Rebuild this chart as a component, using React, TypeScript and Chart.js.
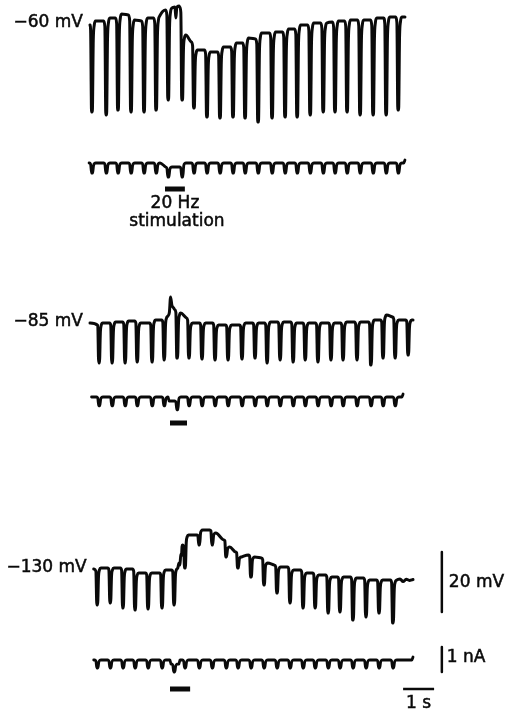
import React, { useEffect, useRef } from "react";
import { Chart, registerables } from "chart.js";

Chart.register(...registerables);

// ---------- data (time in s, membrane potential in mV, current in nA) ----------
const restPotentials = [-60, -85, -130];

// pulse onset times for each recording
const pulseTimesA = [0.02, 0.48, 0.86, 1.28, 1.7, 2.09, 2.48, 2.93, 3.31, 3.73, 4.15, 4.57, 4.96, 5.38, 5.83, 6.25, 6.64, 7.06, 7.48, 7.86, 8.25, 8.67, 9.09, 9.51, 9.9];
const pulseTimesB = [0.25, 0.67, 1.09, 1.48, 1.96, 2.35, 2.77, 3.15, 3.57, 3.99, 4.41, 4.86, 5.28, 5.67, 6.09, 6.51, 6.9, 7.31, 7.73, 8.12, 8.57, 9.02, 9.41, 9.8, 10.22];
const pulseTimesC = [0.19, 0.61, 1.02, 1.41, 1.83, 2.28, 2.67, 3.02, 3.48, 3.9, 4.35, 4.73, 5.15, 5.57, 5.99, 6.41, 6.83, 7.22, 7.64, 8.02, 8.44, 8.86, 9.28, 9.73];

// recording A (-60 mV)
const preA = [-60.3, -59.0, -58.0, -57.0, -59.0, -58.0, -55.3, -54.3, -66.0, -68.7, -69.3, -67.7, -66.3, -65.0, -63.0, -62.7, -61.7, -60.3, -59.7, -59.3, -59.0, -58.7, -58.7, -58.0, -57.7];
const postA = [-59.0, -58.0, -56.7, -58.7, -58.0, -57.3, -54.7, -63.7, -68.7, -69.3, -67.7, -66.3, -64.7, -63.0, -62.7, -61.7, -60.3, -59.7, -59.7, -59.0, -58.7, -58.7, -58.0, -57.7, -57.7];
const troughA = [-89.3, -90.3, -88.7, -89.3, -89.3, -88.7, -85.3, -85.3, -88.0, -91.0, -91.3, -91.0, -91.3, -92.7, -91.3, -91.0, -91.0, -90.3, -89.3, -89.3, -89.3, -90.3, -90.3, -90.3, -88.7];
const extraA: [number, number][] = [[0, -60.3], [2.74, -54.3], [2.77, -58.0], [2.8, -54.5], [2.87, -54.0], [10.16, -57.7]];

// recording B (-85 mV)
const preB = [-85.0, -85.0, -84.7, -84.3, -85.0, -84.0, -80.5, -83.3, -85.0, -85.0, -85.7, -85.7, -85.0, -85.0, -84.7, -84.7, -85.0, -85.0, -85.0, -85.0, -84.7, -84.7, -84.0, -83.0, -84.0];
const postB = [-85.0, -84.7, -84.3, -85.0, -84.0, -82.7, -81.7, -85.0, -85.0, -85.7, -85.7, -85.0, -85.0, -84.7, -84.7, -85.0, -85.0, -85.0, -85.0, -84.7, -84.7, -84.0, -82.3, -84.0, -84.0];
const troughB = [-98.3, -98.3, -98.3, -98.0, -98.0, -97.3, -96.7, -96.7, -97.0, -97.3, -97.3, -97.0, -96.7, -98.3, -97.3, -98.0, -97.3, -98.0, -97.3, -97.3, -97.3, -99.0, -96.7, -96.7, -95.7];
const extraB: [number, number][] = [[0, -85.0], [2.56, -81.5], [2.6, -76.3], [2.64, -79.0], [2.7, -80.0], [10.42, -84.0]];

// recording C (-130 mV)
const preC = [-130.0, -129.7, -129.7, -130.0, -131.3, -131.3, -130.3, -122.0, -118.7, -117.0, -120.3, -124.3, -125.3, -126.3, -128.7, -129.3, -130.3, -131.3, -132.0, -132.7, -132.7, -133.0, -133.7, -133.7];
const postC = [-129.7, -129.7, -130.0, -131.3, -131.3, -130.3, -129.7, -118.7, -117.0, -118.0, -122.7, -126.0, -126.0, -128.0, -129.3, -130.3, -131.3, -132.0, -132.7, -132.7, -133.0, -133.7, -133.7, -133.7];
const troughC = [-142.0, -141.3, -143.0, -143.7, -143.3, -143.0, -142.0, -129.7, -122.0, -122.0, -126.0, -129.7, -132.7, -135.3, -138.0, -141.3, -143.0, -143.0, -144.7, -144.3, -147.0, -146.0, -144.7, -148.0];
const extraC: [number, number][] = [[0.12, -130.0], [2.87, -128.0], [2.9, -128.7], [2.93, -125.0], [2.95, -125.7], [2.97, -122.5], [10.0, -133.3], [10.1, -134.2], [10.2, -133.4], [10.3, -133.8], [10.42, -133.5]];

// current monitor traces (nA)
const currentPulse = [0.4, 0.35, 0.32];
const currentStimShift = [-0.16, -0.16, -0.16];
const currentStimWindow: [number, number][] = [[2.45, 2.93], [2.52, 2.77], [2.58, 2.9]];
const currentStart = [-0.03, 0.05, 0.12];
const currentEnd = [10.12, 10.06, 10.38];

// 20 Hz stimulation periods
const stimPeriods: [number, number][] = [[2.42, 3.06], [2.58, 3.13], [2.58, 3.23]];

// calibration
const calMv = 20;
const calNa = 1;
const calS = 1;

// ---------- layout ----------
const W = 506;
const H = 712;
const PX_PER_S = 31;
const X0_PX = 90;
const PX_PER_MV = 3;
const PX_PER_NA = 25;
const INK = "#0a0a0a";
const FONT = '17px "DejaVu Sans", sans-serif';

function range(value: number, px: number, perUnit: number) {
  const max = value + px / perUnit;
  return { min: max - H / perUnit, max };
}

type P = { x: number; y: number };

function voltageTrace(times: number[], pre: number[], post: number[], trough: number[], extra: [number, number][]): P[] {
  const pts: P[] = [];
  times.forEach((t0, i) => {
    const p = pre[i], q = trough[i], r = post[i];
    if (i > 0) pts.push({ x: t0 - 0.04, y: p });
    pts.push({ x: t0, y: p - 0.06 * (p - q) });
    pts.push({ x: t0 + 0.03, y: q });
    pts.push({ x: t0 + 0.055, y: q });
    pts.push({ x: t0 + 0.085, y: r - 0.22 * (r - q) });
    pts.push({ x: t0 + 0.115, y: r - 0.05 * (r - q) });
    pts.push({ x: t0 + 0.16, y: r });
  });
  extra.forEach(([x, y]) => pts.push({ x, y }));
  pts.sort((a, b) => a.x - b.x);
  return pts;
}

function currentTrace(times: number[], depth: number, shift: number, win: [number, number], start: number, end: number): P[] {
  const lvl = (t: number) => (t >= win[0] && t <= win[1] ? shift : 0);
  const pts: P[] = [];
  times.forEach((t0) => {
    if (t0 > end) return;
    const b = lvl(t0), a = lvl(t0 + 0.16);
    pts.push({ x: t0 - 0.04, y: b });
    pts.push({ x: t0, y: b - 0.12 * depth });
    pts.push({ x: t0 + 0.03, y: b - depth });
    pts.push({ x: t0 + 0.065, y: b - depth });
    pts.push({ x: t0 + 0.095, y: a - 0.25 * depth });
    pts.push({ x: t0 + 0.125, y: a - 0.05 * depth });
    pts.push({ x: t0 + 0.17, y: a });
  });
  const inPulse = (t: number) => times.some((t0) => t >= t0 - 0.045 && t <= t0 + 0.175);
  const edges: P[] = [
    { x: win[0], y: 0 },
    { x: win[0] + 0.03, y: shift },
    { x: win[1] - 0.03, y: shift },
    { x: win[1], y: 0 },
    { x: start, y: 0 },
    { x: end, y: 0 },
    { x: end + 0.04, y: 0.12 },
  ];
  edges.forEach((e) => {
    if (!inPulse(e.x)) pts.push(e);
  });
  pts.sort((a, b) => a.x - b.x);
  return pts;
}

const tracePlugin = {
  id: "figureText",
  afterDatasetsDraw(chart: any) {
    const { ctx, scales } = chart;
    const x = scales.x;
    ctx.save();
    ctx.fillStyle = INK;
    ctx.strokeStyle = INK;
    ctx.lineWidth = 0.5;
    ctx.font = FONT;
    ctx.textBaseline = "middle";
    const put = (s: string, px: number, py: number) => {
      ctx.fillText(s, px, py);
      ctx.strokeText(s, px, py);
    };
    // resting potential labels
    const starts = [0, 0, 0.12];
    const axes = ["v1", "v2", "v3"];
    restPotentials.forEach((v, k) => {
      ctx.textAlign = "right";
      const px = x.getPixelForValue(starts[k]) - 7;
      const py = scales[axes[k]].getPixelForValue(v) - 1.5;
      put(`\u2212${Math.abs(v)} mV`, px, py);
    });
    // stimulation label under the first bar
    const sMid = x.getPixelForValue((stimPeriods[0][0] + stimPeriods[0][1]) / 2);
    const barY = scales.i1.getPixelForValue(-1.04);
    ctx.textAlign = "center";
    put("20 Hz", sMid, barY + 15);
    put("stimulation", sMid + 2, barY + 33);
    // calibration labels
    ctx.textAlign = "left";
    const calX = x.getPixelForValue(11.35);
    const mvMid = scales.v3.getPixelForValue(-124.3 - calMv / 2);
    put(`${calMv} mV`, calX + 7, mvMid + 1);
    const naMid = scales.i3.getPixelForValue(0.52 - calNa / 2);
    put(`${calNa} nA`, calX + 5, naMid - 2);
    ctx.textAlign = "center";
    const sBar = x.getPixelForValue(10.1 + calS / 2);
    const sY = scales.i3.getPixelForValue(-1.16);
    put(`${calS} s`, sBar, sY + 15);
    ctx.restore();
  },
};

export default function App() {
  const ref = useRef<HTMLCanvasElement | null>(null);

  useEffect(() => {
    if (!ref.current) return;
    const line = (data: P[], axis: string, width = 2.6, extra: any = {}) => ({
      data,
      yAxisID: axis,
      xAxisID: "x",
      borderColor: INK,
      backgroundColor: INK,
      borderWidth: width,
      pointRadius: 0,
      fill: false,
      cubicInterpolationMode: "monotone",
      borderJoinStyle: "round",
      borderCapStyle: "round",
      ...extra,
    });
    const straight = { borderCapStyle: "butt", cubicInterpolationMode: "default", tension: 0 };

    const currentAxes = ["i1", "i2", "i3"];
    const timesAll = [pulseTimesA, pulseTimesB, pulseTimesC];
    const datasets: any[] = [
      line(voltageTrace(pulseTimesA, preA, postA, troughA, extraA), "v1", 3),
      line(voltageTrace(pulseTimesB, preB, postB, troughB, extraB), "v2", 3),
      line(voltageTrace(pulseTimesC, preC, postC, troughC, extraC), "v3", 3),
    ];
    timesAll.forEach((times, k) => {
      datasets.push(
        line(
          currentTrace(times, currentPulse[k], currentStimShift[k], currentStimWindow[k], currentStart[k], currentEnd[k]),
          currentAxes[k],
          2.8
        )
      );
    });
    const barLevels = [-1.04, -1.04, -1.16];
    stimPeriods.forEach(([a, b], k) => {
      datasets.push(
        line(
          [
            { x: a, y: barLevels[k] },
            { x: b, y: barLevels[k] },
          ],
          currentAxes[k],
          5,
          straight
        )
      );
    });
    // calibration bars
    datasets.push(line([{ x: 11.35, y: -124.3 }, { x: 11.35, y: -124.3 - calMv }], "v3", 2.5, straight));
    datasets.push(line([{ x: 11.35, y: 0.52 }, { x: 11.35, y: 0.52 - calNa }], "i3", 2.5, straight));
    datasets.push(line([{ x: 10.1, y: -1.16 }, { x: 10.1 + calS, y: -1.16 }], "i3", 2.5, straight));

    const hidden = (r: { min: number; max: number }) => ({ type: "linear", display: false, min: r.min, max: r.max });
    const chart = new Chart(ref.current, {
      type: "line",
      data: { datasets },
      options: {
        animation: false,
        responsive: false,
        events: [],
        layout: { padding: 0 },
        plugins: { legend: { display: false }, tooltip: { enabled: false } },
        scales: {
          x: { type: "linear", display: false, min: -X0_PX / PX_PER_S, max: (W - X0_PX) / PX_PER_S },
          v1: hidden(range(-60, 24, PX_PER_MV)),
          v2: hidden(range(-85, 323, PX_PER_MV)),
          v3: hidden(range(-130, 569, PX_PER_MV)),
          i1: hidden(range(0, 163, PX_PER_NA)),
          i2: hidden(range(0, 397, PX_PER_NA)),
          i3: hidden(range(0, 660, PX_PER_NA)),
        } as any,
      },
      plugins: [tracePlugin],
    } as any);
    return () => chart.destroy();
  }, []);

  return (
    <div style={{ position: "absolute", left: 0, top: 0, width: W, height: H, background: "#fff" }}>
      <canvas ref={ref} width={W} height={H} style={{ display: "block" }} />
    </div>
  );
}
